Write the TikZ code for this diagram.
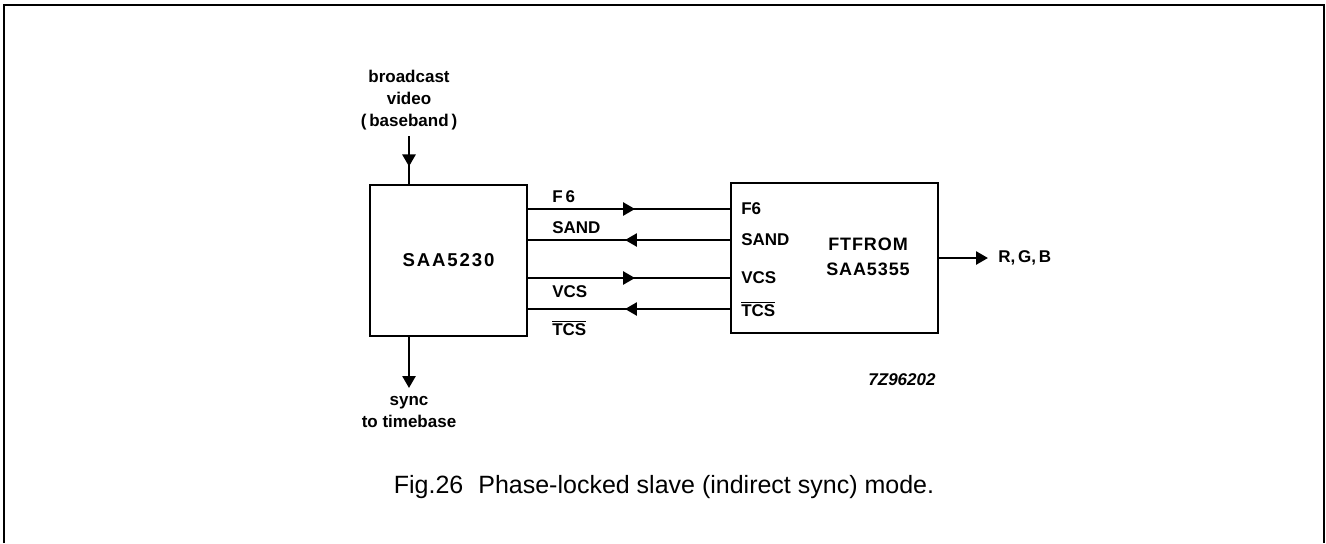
\documentclass[tikz,border=0pt]{standalone}
\usepackage{fontspec}
\setmainfont{Liberation Sans}
\usetikzlibrary{arrows.meta,positioning,decorations.markings}

\begin{document}
\begin{tikzpicture}[x=0.5pt, y=-0.5pt, line width=1.3pt,
  every node/.style={font=\bfseries\fontsize{8.5}{11}\selectfont, inner sep=0pt, align=center},
  chip/.style={draw, line width=1.4pt},
  pin/.style={anchor=west},
  tip/.style={-{Triangle[length=6pt,width=6.5pt]}},
  midtip/.style={postaction={decorate}, decoration={markings,
    mark=at position #1 with {\arrow{Triangle[length=6pt,width=6.5pt]}}}}]
\useasboundingbox (0,0) rectangle (1326,543);
% frame, open at the bottom
\draw[line width=1pt] (4,543) -- (4,5) -- (1324,5) -- (1324,543);

% the two chips
\node[chip, minimum width=78.5pt, minimum height=75.5pt,
  font=\bfseries\fontsize{9.3}{11}\selectfont\addfontfeature{LetterSpace=10}] (saa) at (448.5,260.5) {SAA5230};
\node[chip, minimum width=103.5pt, minimum height=75pt] (ftf) at (834.5,258) {};
\node[font=\bfseries\fontsize{9}{12.5}\selectfont\addfontfeature{LetterSpace=5}] (ftfname) at (868,257) {FTFROM\\SAA5355};

% pins of the FTFROM
\node[pin] (pf6) at (740,209) {F6};
\node[pin] (psand) at (740,240) {SAND};
\node[pin] (pvcs) at (740,278) {VCS};
\node[pin] (ptcs) at (740,309) {$\overline{\hbox{TCS}}$};

% line names at the SAA5230
\node[pin] (lf6) at (551,197) {F\,6};
\node[pin] (lsand) at (551,228) {SAND};
\node[pin] (lvcs) at (551,292) {VCS};
\node[pin] (ltcs) at (551,328) {$\overline{\hbox{TCS}}$};

\draw[midtip=0.53] (saa.east |- pf6) -- (ftf.west |- pf6);
\draw[midtip=0.52] (ftf.west |- psand) -- (saa.east |- psand);
\draw[midtip=0.53] (saa.east |- pvcs) -- (ftf.west |- pvcs);
\draw[midtip=0.52] (ftf.west |- ptcs) -- (saa.east |- ptcs);

% video in, sync out
\node (bcast) at (409,100) {broadcast\\video\\(\,baseband\,)};
\coordinate (vin) at (409,136);
\draw[midtip=0.64] (vin) -- (saa.north -| vin);
\node (sync) at (409,412) {sync\\to timebase};
\coordinate (vout) at (409,388);
\draw[tip] (saa.south -| vout) -- (vout);

% R,G,B out
\node[anchor=west, inner xsep=4.5pt] (rgb) at (988,258) {R,\,G,\,B};
\draw[tip] (ftf.east |- rgb) -- (rgb.west);

\node[font=\bfseries\itshape\fontsize{8.5}{11}\selectfont] (code) at (902,380) {7Z96202};
\node[font=\fontsize{12.5}{15}\selectfont] (cap) at (664,487) {Fig.26\hspace{0.6em}Phase-locked slave (indirect sync) mode.};
\end{tikzpicture}
\end{document}
